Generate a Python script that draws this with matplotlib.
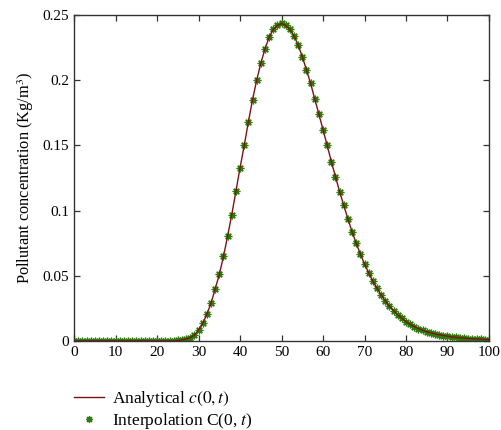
import matplotlib
matplotlib.use('Agg')
import matplotlib.pyplot as plt
import numpy as np

# values, one per unit of t
t = list(range(0, 101))
conc = [0.0] * 25 + [
    0.0004, 0.0008, 0.0015, 0.0026, 0.0045,          # 25-29
    0.0085, 0.0135, 0.0205, 0.029, 0.040,            # 30-34
    0.051, 0.065, 0.0805, 0.097, 0.115,              # 35-39
    0.133, 0.150, 0.168, 0.185, 0.200,               # 40-44
    0.213, 0.224, 0.233, 0.239, 0.242,               # 45-49
    0.2436, 0.242, 0.239, 0.234, 0.227,              # 50-54
    0.218, 0.208, 0.1976, 0.1856, 0.174,             # 55-59
    0.162, 0.150, 0.1375, 0.126, 0.1145,             # 60-64
    0.104, 0.0936, 0.0838, 0.0749, 0.0667,           # 65-69
    0.059, 0.0524, 0.046, 0.0404, 0.0353,            # 70-74
    0.0307, 0.0268, 0.0232, 0.020, 0.0174,           # 75-79
    0.0148, 0.0128, 0.0110, 0.0095, 0.0082,          # 80-84
    0.0071, 0.0062, 0.0054, 0.0047, 0.0042,          # 85-89
    0.0037, 0.0032, 0.0028, 0.0025, 0.0022,          # 90-94
    0.0019, 0.0017, 0.0015, 0.0013, 0.0011,          # 95-99
    0.0010,                                          # 100
]

xticks = list(range(0, 101, 10))
yticks = [0, 0.05, 0.1, 0.15, 0.2, 0.25]
ytick_labels = ['0', '0.05', '0.1', '0.15', '0.2', '0.25']

plt.rcParams['font.family'] = ['Liberation Serif', 'DejaVu Serif']
plt.rcParams['mathtext.fontset'] = 'stix'
plt.rcParams['font.size'] = 11

fig = plt.figure(figsize=(5.01, 4.30), dpi=100)
ax = fig.add_axes([0.148, 0.207, 0.828, 0.758])

ax.plot(t, conc, linestyle='none', marker=(8, 2, 0), markersize=5.5,
        markeredgewidth=0.9, color='#2e7d0a', markeredgecolor='#2e7d0a',
        zorder=2)
ax.plot(t, conc, color='#7a1414', linewidth=1.0, zorder=3)

# legend handles
h_line, = ax.plot([], [], color='#7a1414', linewidth=1.0)
h_mark, = ax.plot([], [], linestyle='none', marker=(8, 2, 0), markersize=5,
                  markeredgewidth=0.9, color='#2e7d0a')

ax.set_xlim(0, 100)
ax.set_ylim(0, 0.25)
ax.set_xticks(xticks)
ax.set_yticks(yticks)
ax.set_yticklabels(ytick_labels)
ax.tick_params(direction='in', top=True, right=True, length=4, width=0.9,
               color='#333333', labelsize=11)
for s in ax.spines.values():
    s.set_linewidth(1.0)
    s.set_color('#333333')
ax.set_ylabel(r'Pollutant concentration (Kg/m$^3$)', fontsize=11.8, labelpad=5)

fig.legend([h_line, h_mark],
           [r'Analytical $c(0, t)$', r'Interpolation C(0, $t$)'],
           loc='upper left', bbox_to_anchor=(0.133, 0.111),
           frameon=False, handlelength=1.75, handletextpad=0.45,
           labelspacing=0.08, borderaxespad=0, fontsize=12.5)

fig.savefig('out.png', dpi=100)
